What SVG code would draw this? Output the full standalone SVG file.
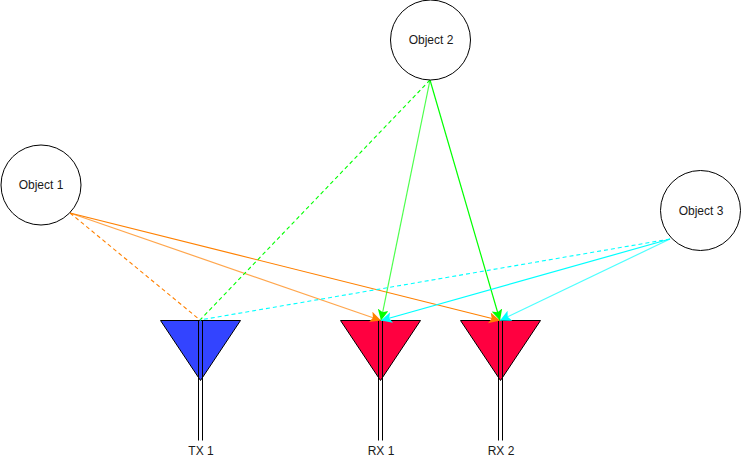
<svg xmlns="http://www.w3.org/2000/svg" width="741" height="457" viewBox="0 0 741 457">
<style>
text{font-family:"Liberation Sans",Arial,sans-serif;font-size:12px;fill:#1a1a1a;text-anchor:middle}
.obj{fill:#fff;stroke:#000;stroke-width:1}
.ant{stroke:#000;stroke-width:1}
.stem{stroke:#000;stroke-width:1;fill:none}
.c{fill:none;stroke-width:1.2}
.d{stroke-dasharray:4 3;stroke-width:1.1}
.o{stroke:#ff8000}.g{stroke:#00ff00}.b{stroke:#00ffff}
.tx{fill:#3344ff}.rx{fill:#ff0040}
</style>
<defs>
<marker id="ao" markerUnits="userSpaceOnUse" markerWidth="14" markerHeight="12" refX="11" refY="5.500" orient="auto"><path d="M0 0L11 5.500L0 11L2.500 5.500Z" fill="#ff8000"/></marker>
<marker id="ag" markerUnits="userSpaceOnUse" markerWidth="14" markerHeight="12" refX="11" refY="5.500" orient="auto"><path d="M0 0L11 5.500L0 11L2.500 5.500Z" fill="#00ff00"/></marker>
<marker id="ab" markerUnits="userSpaceOnUse" markerWidth="14" markerHeight="12" refX="11" refY="5.500" orient="auto"><path d="M0 0L11 5.500L0 11L2.500 5.500Z" fill="#00ffff"/></marker>
</defs>
<g id="tx1"><path class="ant tx" d="M160.500 320.500H240.500L200.500 380.500Z"/><path class="stem" d="M198.500 320.500V440.500M202.500 320.500V440.500"/><text x="201" y="455">TX 1</text></g>
<g id="rx1"><path class="ant rx" d="M340.500 320.500H420.500L380.500 380.500Z"/><path class="stem" d="M378.500 320.500V440.500M382.500 320.500V440.500"/><text x="381" y="455">RX 1</text></g>
<g id="rx2"><path class="ant rx" d="M460.500 320.500H540.500L500.500 380.500Z"/><path class="stem" d="M498.500 320.500V440.500M502.500 320.500V440.500"/><text x="501" y="455">RX 2</text></g>
<g id="connectors">
<path class="c d o" d="M70 213L200 320"/>
<path class="c o" stroke-opacity=".7" d="M70 213L381 320.500" marker-end="url(#ao)"/>
<path class="c o" d="M70 213L500 320.500" marker-end="url(#ao)"/>
<path class="c d g" d="M430 80L200 320"/>
<path class="c g" stroke-opacity=".7" d="M430 80L381 320.500" marker-end="url(#ag)"/>
<path class="c g" d="M430 80L500 320.500" marker-end="url(#ag)"/>
<path class="c d b" d="M670 239L200 320"/>
<path class="c b" d="M670 239L381 320.500" marker-end="url(#ab)"/>
<path class="c b" stroke-opacity=".7" d="M670 239L500 320.500" marker-end="url(#ab)"/>
</g>
<g id="object1"><circle class="obj" cx="41" cy="185" r="40"/><text x="41" y="189">Object 1</text></g>
<g id="object2"><circle class="obj" cx="430.500" cy="40" r="40"/><text x="431" y="44">Object 2</text></g>
<g id="object3"><circle class="obj" cx="700.500" cy="210.500" r="40"/><text x="701" y="214.500">Object 3</text></g>
</svg>
